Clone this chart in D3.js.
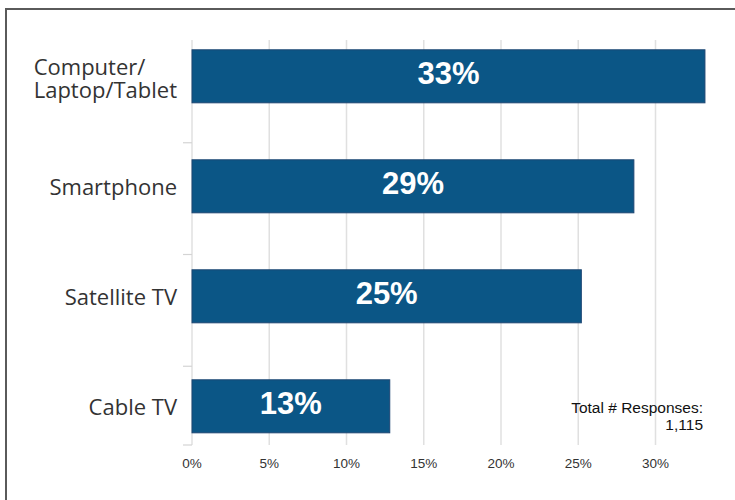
<!DOCTYPE html>
<html><head><meta charset="utf-8">
<script src="https://cdn.jsdelivr.net/npm/d3@7"></script>
<style>html,body{margin:0;padding:0;background:#fff;}</style>
</head><body>
<svg id="chart" width="735" height="500"></svg>
<script>
const categories = ["Computer/\nLaptop/Tablet", "Smartphone", "Satellite TV", "Cable TV"];
const values = [33.2, 28.6, 25.2, 12.8];
const xTicks = [0, 5, 10, 15, 20, 25, 30];
const noteLines = ["Total # Responses:", "1,115"];

const svg = d3.select("#chart");
const plotTop = 40, plotBottom = 445;

const x = d3.scaleLinear().domain([0, 30]).range([192, 655.5]);
const y = d3.scaleBand().domain(categories).range([21.3, 461.3]).paddingInner(0.518).paddingOuter(0.259);
const yTick = d3.scaleBand().domain(categories).range([31, 478]).padding(0);

// frame
svg.append("path").attr("d", "M6,500 L6,9 L735,9").attr("fill", "none").attr("stroke", "#5a5a5a").attr("stroke-width", 2);

// gridlines
svg.append("g").selectAll("line").data(xTicks).join("line")
  .attr("x1", d => x(d)).attr("x2", d => x(d))
  .attr("y1", plotTop).attr("y2", plotBottom)
  .attr("stroke", "#e0e0e0").attr("stroke-width", 1.5);

// y-axis ticks
const tickYs = categories.slice(1).map(c => yTick(c)).concat([plotBottom]);
svg.append("g").selectAll("line").data(tickYs).join("line")
  .attr("x1", 183).attr("x2", 192).attr("y1", d => d).attr("y2", d => d)
  .attr("stroke", "#d4d4d4").attr("stroke-width", 1.2);

// x tick labels
svg.append("g").selectAll("text").data(xTicks).join("text")
  .attr("x", d => x(d)).attr("y", 468)
  .attr("text-anchor", "middle")
  .attr("font-family", "Liberation Sans, Arial, sans-serif").attr("font-size", 13.5)
  .attr("fill", "#333").text(d => d + "%");

// bars
svg.append("g").selectAll("rect").data(categories).join("rect")
  .attr("x", x(0)).attr("y", d => y(d))
  .attr("width", (d, i) => x(values[i]) - x(0)).attr("height", y.bandwidth())
  .attr("fill", "#0b5686").attr("stroke", "#1d4673").attr("stroke-width", 1);

// value labels
svg.append("g").selectAll("text").data(categories).join("text")
  .attr("x", (d, i) => (x(0) + x(values[i])) / 2)
  .attr("y", d => y(d) + y.bandwidth() / 2 + 8)
  .attr("text-anchor", "middle")
  .attr("font-family", "Liberation Sans, Arial, sans-serif").attr("font-weight", "bold").attr("font-size", 31)
  .attr("fill", "#fff").text((d, i) => Math.round(values[i]) + "%");

// category labels
const labelRight = 177;
categories.forEach(c => {
  const lines = c.split("\n");
  const t = svg.append("text")
    .attr("font-family", "Open Sans, sans-serif").attr("font-size", 22).attr("fill", "#333");
  const cy = y(c) + y.bandwidth() / 2;
  const lh = 23;
  const off = lines.length > 1 ? 10 : 8.5;
  lines.forEach((ln, k) => {
    t.append("tspan").attr("y", cy + off + (k - (lines.length - 1) / 2) * lh).text(ln);
  });
  const spans = t.selectAll("tspan").nodes();
  const maxW = d3.max(spans, s => s.getComputedTextLength());
  spans.forEach(s => d3.select(s).attr("x", labelRight - maxW));
});

// note
const note = svg.append("text").attr("text-anchor", "end")
  .attr("font-family", "Liberation Sans, Arial, sans-serif").attr("font-size", 15.5).attr("fill", "#111");
noteLines.forEach((ln, k) => note.append("tspan").attr("x", 703).attr("y", 413 + k * 17).text(ln));
</script>
</body></html>
